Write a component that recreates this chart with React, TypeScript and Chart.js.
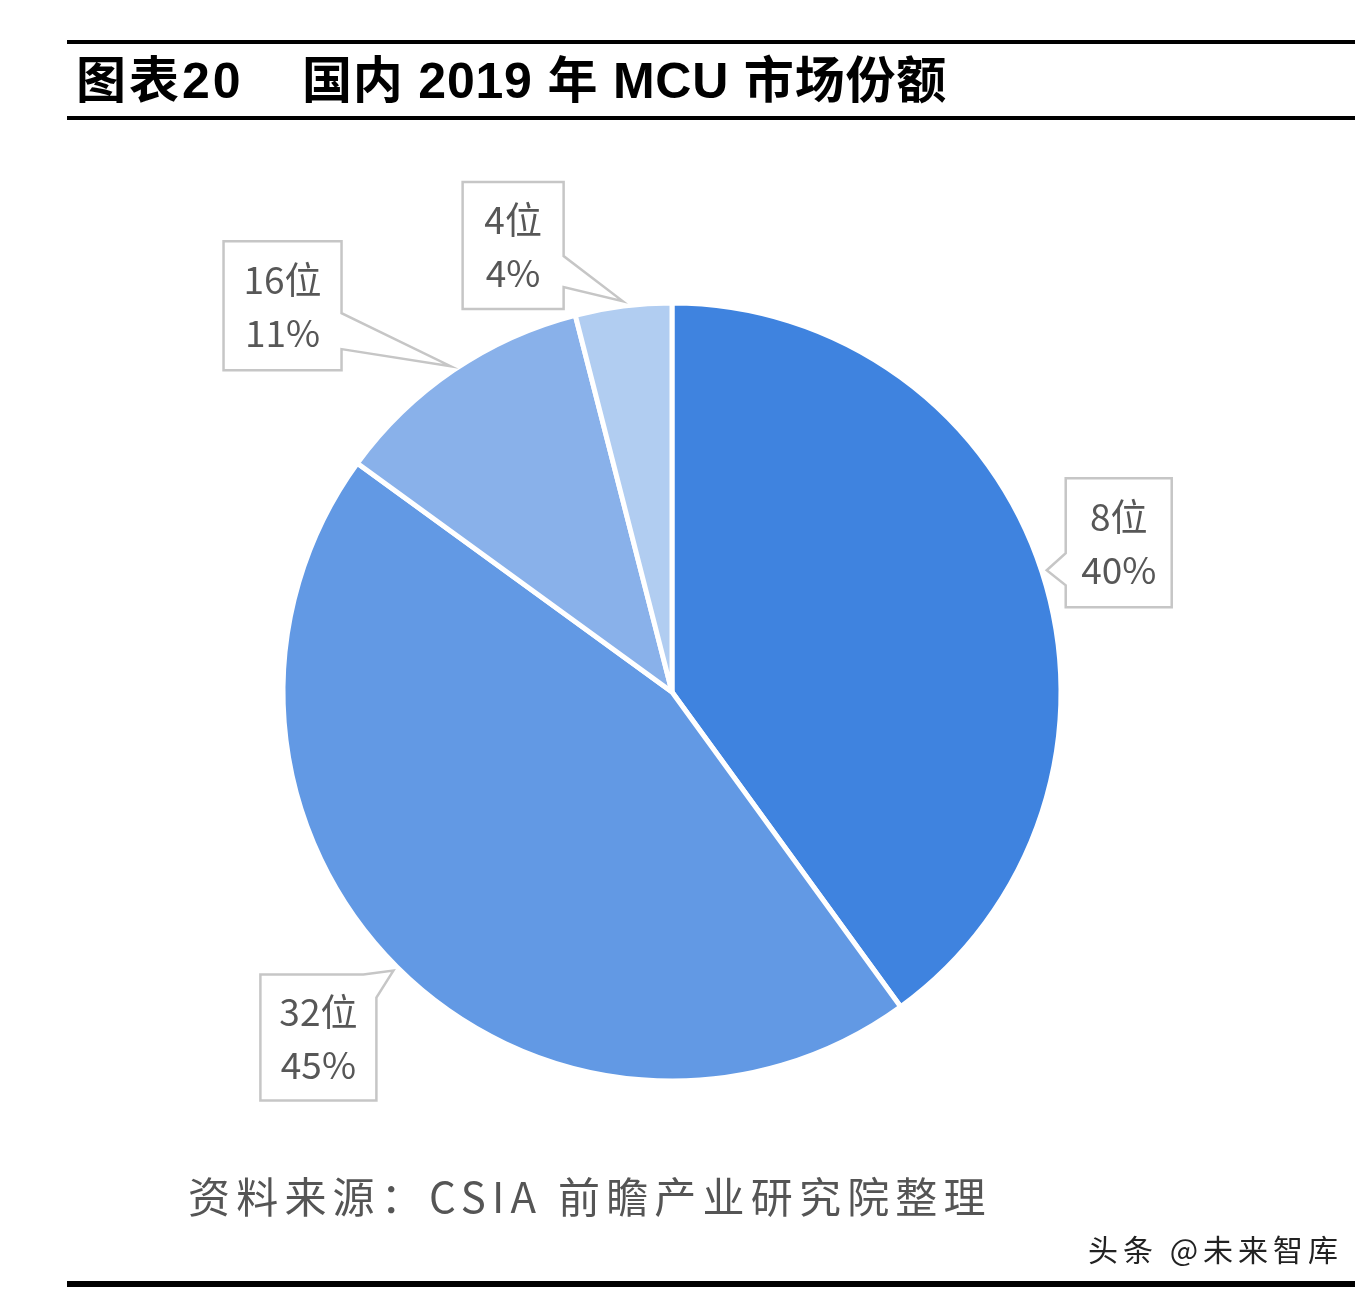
import React, { useEffect, useRef } from "react";
import { Chart, registerables } from "chart.js";

Chart.register(...registerables);

// ---- data ----
const categories = ["8位", "32位", "16位", "4位"];
const shares = [40, 45, 11, 4];
const shareLabels = ["40%", "45%", "11%", "4%"];
const sliceColors = ["#3f83df", "#6299e4", "#89b1ea", "#b1cdf1"];

// ---- callout layout (box top-left relative to tip, wedge base points on box sides) ----
type Side = "top" | "right" | "bottom" | "left";
const calloutLayout: { bx: number; by: number; w: number; h: number; a: [Side, number]; b: [Side, number] }[] = [
  { bx: 19, by: -92, w: 106, h: 129, a: ["left", 75], b: ["left", 107] },
  { bx: -133, by: 4, w: 116, h: 126, a: ["top", 103], b: ["right", 23] },
  { bx: -227, by: -125, w: 118, h: 129, a: ["right", 72], b: ["right", 108] },
  { bx: -160, by: -119, w: 101, h: 127, a: ["right", 74], b: ["right", 105] },
];

const FONT_CJK = '"Noto Sans CJK SC", "Liberation Sans", sans-serif';

function perimT(side: Side, off: number, w: number, h: number) {
  if (side === "top") return off;
  if (side === "right") return w + off;
  if (side === "bottom") return w + h + (w - off);
  return 2 * w + h + (h - off);
}
function perimPt(t: number, x0: number, y0: number, w: number, h: number): [number, number] {
  const P = 2 * w + 2 * h;
  t = ((t % P) + P) % P;
  if (t <= w) return [x0 + t, y0];
  if (t <= w + h) return [x0 + w, y0 + (t - w)];
  if (t <= 2 * w + h) return [x0 + w - (t - w - h), y0 + h];
  return [x0, y0 + h - (t - 2 * w - h)];
}

const calloutPlugin = {
  id: "callouts",
  afterDatasetsDraw(chart: any) {
    const ctx = chart.ctx as CanvasRenderingContext2D;
    const meta = chart.getDatasetMeta(0);
    meta.data.forEach((arc: any, i: number) => {
      const p = arc.getProps(["x", "y", "startAngle", "endAngle", "outerRadius"], true);
      const mid = (p.startAngle + p.endAngle) / 2;
      const tr = p.outerRadius + 5;
      const tx = p.x + Math.cos(mid) * tr;
      const ty = p.y + Math.sin(mid) * tr;
      const L = calloutLayout[i];
      const x0 = tx + L.bx;
      const y0 = ty + L.by;
      const w = L.w;
      const h = L.h;
      const P = 2 * w + 2 * h;
      let t1 = perimT(L.a[0], L.a[1], w, h);
      let t2 = perimT(L.b[0], L.b[1], w, h);
      if (t1 > t2) [t1, t2] = [t2, t1];
      const corners = [0, w, w + h, 2 * w + h];
      const span = (t1 - t2 + P) % P;
      const walk = corners
        .map((c) => ({ c, d: (c - t2 + P) % P }))
        .filter((o) => o.d > 0 && o.d < span)
        .sort((a, b) => a.d - b.d);
      ctx.save();
      ctx.beginPath();
      const s = perimPt(t2, x0, y0, w, h);
      ctx.moveTo(s[0], s[1]);
      walk.forEach((o) => {
        const q = perimPt(o.c, x0, y0, w, h);
        ctx.lineTo(q[0], q[1]);
      });
      const e = perimPt(t1, x0, y0, w, h);
      ctx.lineTo(e[0], e[1]);
      ctx.lineTo(tx, ty);
      ctx.closePath();
      ctx.fillStyle = "#ffffff";
      ctx.fill();
      ctx.lineWidth = 2.5;
      ctx.strokeStyle = "#c6c6c6";
      ctx.lineJoin = "miter";
      ctx.stroke();

      ctx.fillStyle = "#575757";
      ctx.font = `37px ${FONT_CJK}`;
      ctx.textAlign = "center";
      ctx.textBaseline = "middle";
      const cx = x0 + w / 2;
      ctx.fillText(categories[i], cx, y0 + h / 2 - 26);
      ctx.fillText(shareLabels[i], cx, y0 + h / 2 + 27);
      ctx.restore();
    });
  },
};

export default function App() {
  const ref = useRef<HTMLCanvasElement | null>(null);
  useEffect(() => {
    if (!ref.current) return;
    const chart = new Chart(ref.current, {
      type: "pie",
      data: {
        labels: categories,
        datasets: [
          {
            data: shares,
            backgroundColor: sliceColors,
            borderColor: "#ffffff",
            borderWidth: 5,
          },
        ],
      },
      options: {
        responsive: false,
        animation: false,
        radius: 389,
        layout: { padding: { left: 200, right: 226, top: 250, bottom: 160 } },
        plugins: { legend: { display: false }, tooltip: { enabled: false } },
      } as any,
      plugins: [calloutPlugin],
    });
    return () => chart.destroy();
  }, []);

  const line = (top: number, h: number) => (
    <div style={{ position: "absolute", left: 67, width: 1288, top, height: h, background: "#000" }} />
  );

  return (
    <div style={{ position: "absolute", left: 0, top: 0, width: 1370, height: 1294, background: "#fff", overflow: "hidden" }}>
      <canvas ref={ref} width={1370} height={1294} style={{ position: "absolute", left: 0, top: 0 }} />
      {line(40, 4)}
      {line(116, 4)}
      {line(1281, 6)}
      <div
        style={{
          position: "absolute",
          left: 76,
          top: 51,
          height: 60,
          lineHeight: "60px",
          fontFamily: '"Liberation Sans", "Noto Sans CJK SC", sans-serif',
          fontWeight: 700,
          fontSize: 50,
          letterSpacing: 3,
          color: "#000",
          whiteSpace: "nowrap",
        }}
      >
        图表20
      </div>
      <div
        style={{
          position: "absolute",
          left: 302,
          top: 51,
          height: 60,
          lineHeight: "60px",
          fontFamily: '"Liberation Sans", "Noto Sans CJK SC", sans-serif',
          fontWeight: 700,
          fontSize: 50,
          letterSpacing: 0.8,
          color: "#000",
          whiteSpace: "nowrap",
        }}
      >
        国内 2019 年 MCU 市场份额
      </div>
      <div
        style={{
          position: "absolute",
          left: 188,
          top: 1170,
          height: 50,
          lineHeight: "50px",
          fontFamily: FONT_CJK,
          fontSize: 42,
          letterSpacing: 6.2,
          color: "#555",
          whiteSpace: "nowrap",
        }}
      >
        资料来源：CSIA 前瞻产业研究院整理
      </div>
      <div
        style={{
          position: "absolute",
          left: 1088,
          top: 1229,
          height: 38,
          lineHeight: "38px",
          fontFamily: FONT_CJK,
          fontSize: 30,
          letterSpacing: 5,
          color: "#222",
          whiteSpace: "nowrap",
        }}
      >
        头条 @未来智库
      </div>
    </div>
  );
}
